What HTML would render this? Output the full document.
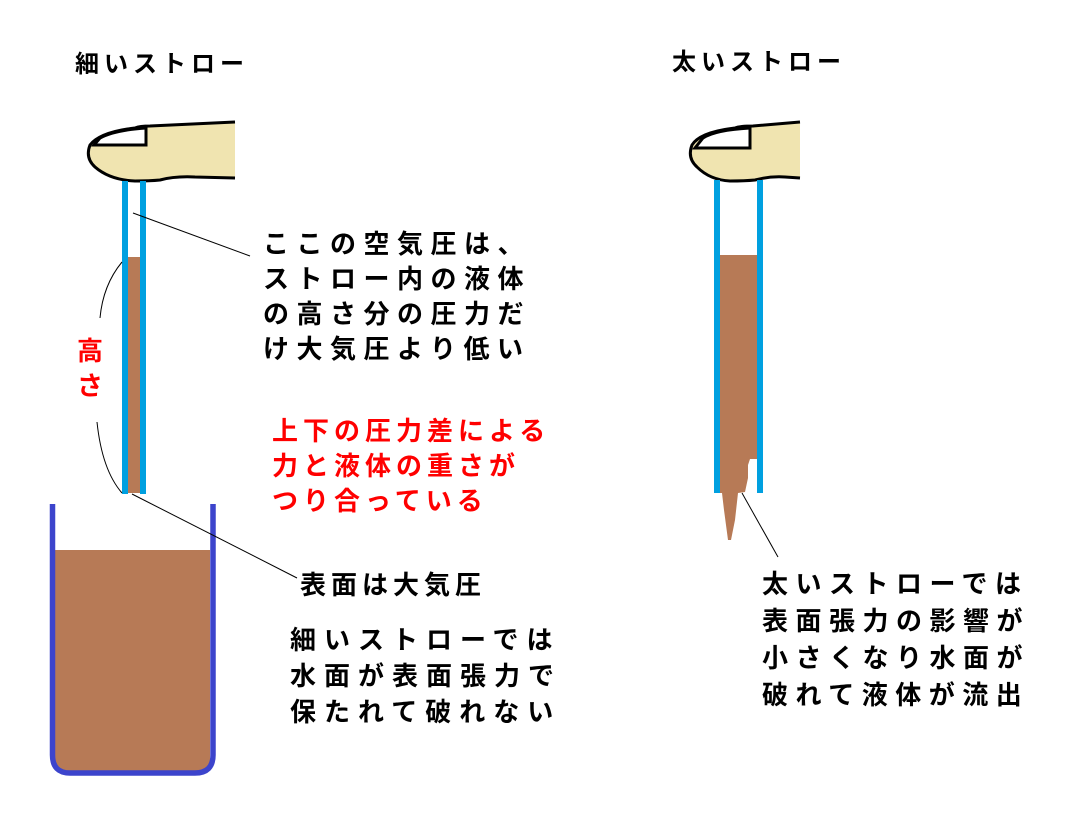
<!DOCTYPE html>
<html><head><meta charset="utf-8"><style>
body{margin:0;width:1073px;height:817px;background:#fff;position:relative;overflow:hidden;font-family:"Liberation Sans","Noto Sans CJK JP",sans-serif;}
.t{position:absolute;font-size:26px;font-weight:bold;letter-spacing:7px;line-height:35px;white-space:nowrap;color:#000;}
.h{position:absolute;font-size:24px;font-weight:bold;letter-spacing:5px;white-space:nowrap;}
.r{color:#f00;}
</style></head><body>
<svg width="1073" height="817" style="position:absolute;left:0;top:0">
<path d="M235,122 L150,126 Q140,126 135,128 Q100,132 90,145 Q85,158 95,167 Q110,180 135,181 Q150,181 160,180 Q175,176 195,177 L235,178" fill="#f0e4b0" stroke="#000" stroke-width="3"/>
<path d="M94,145 L146,145 L146,128 Q115,130 100,138 Z" fill="#fff" stroke="#000" stroke-width="3"/>
<rect x="128" y="257" width="12" height="236" fill="#b77a56"/>
<rect x="122" y="181" width="6" height="313" fill="#00a0e0"/>
<rect x="140" y="181" width="6" height="313" fill="#00a0e0"/>
<path d="M55,550 L210,550 L210,762 Q210,772 200,772 L68,772 Q55,772 55,760 Z" fill="#b77a56"/>
<path d="M52.5,504 L52.5,755 Q52.5,773 70,773 L195,773 Q213,773 213,755 L213,504" fill="none" stroke="#3c44cc" stroke-width="5.5"/>
<line x1="133" y1="213" x2="250" y2="256" stroke="#000" stroke-width="1"/>
<line x1="132" y1="494" x2="297" y2="578" stroke="#000" stroke-width="1"/>
<path d="M122,262 Q103,285 100,318" fill="none" stroke="#000" stroke-width="1"/>
<path d="M97,422 Q102,470 122,493" fill="none" stroke="#000" stroke-width="1"/>
<path d="M800,122 L753,126 Q740,126 735,128 Q700,132 692,145 Q687,158 697,167 Q710,180 730,181 Q745,181 755,180 Q770,176 785,177 L800,178" fill="#f0e4b0" stroke="#000" stroke-width="3"/>
<path d="M695,148 L750,148 L750,128 Q715,130 703,138 Z" fill="#fff" stroke="#000" stroke-width="3"/>
<path d="M720,255 L757,255 L757,459 L750,459 L748,465 L748,478 L745,492 L738,493 L735,520 L731,540 L728,540 L724,510 L722,493 L720,493 Z" fill="#b77a56"/>
<rect x="714" y="180" width="6" height="313" fill="#00a0e0"/>
<rect x="757" y="180" width="6" height="313" fill="#00a0e0"/>
<line x1="742" y1="493" x2="778" y2="557" stroke="#000" stroke-width="1"/>
</svg>
<div class="h" style="left:75px;top:44px">細いストロー</div>
<div class="h" style="left:672px;top:42px">太いストロー</div>
<div class="t r" style="left:77px;top:334px;line-height:35px;letter-spacing:0">高<br>さ</div>
<div class="t" style="left:263px;top:227px;letter-spacing:7.5px">ここの空気圧は、<br>ストロー内の液体<br>の高さ分の圧力だ<br>け大気圧より低い</div>
<div class="t r" style="left:272px;top:414px;letter-spacing:5px">上下の圧力差による<br>力と液体の重さが<br>つり合っている</div>
<div class="t" style="left:300px;top:568px;letter-spacing:5px">表面は大気圧</div>
<div class="t" style="left:290px;top:622px;letter-spacing:8px;line-height:36px">細いストローでは<br>水面が表面張力で<br>保たれて破れない</div>
<div class="t" style="left:762px;top:566px;letter-spacing:7.5px;line-height:37px">太いストローでは<br>表面張力の影響が<br>小さくなり水面が<br>破れて液体が流出</div>
</body></html>
